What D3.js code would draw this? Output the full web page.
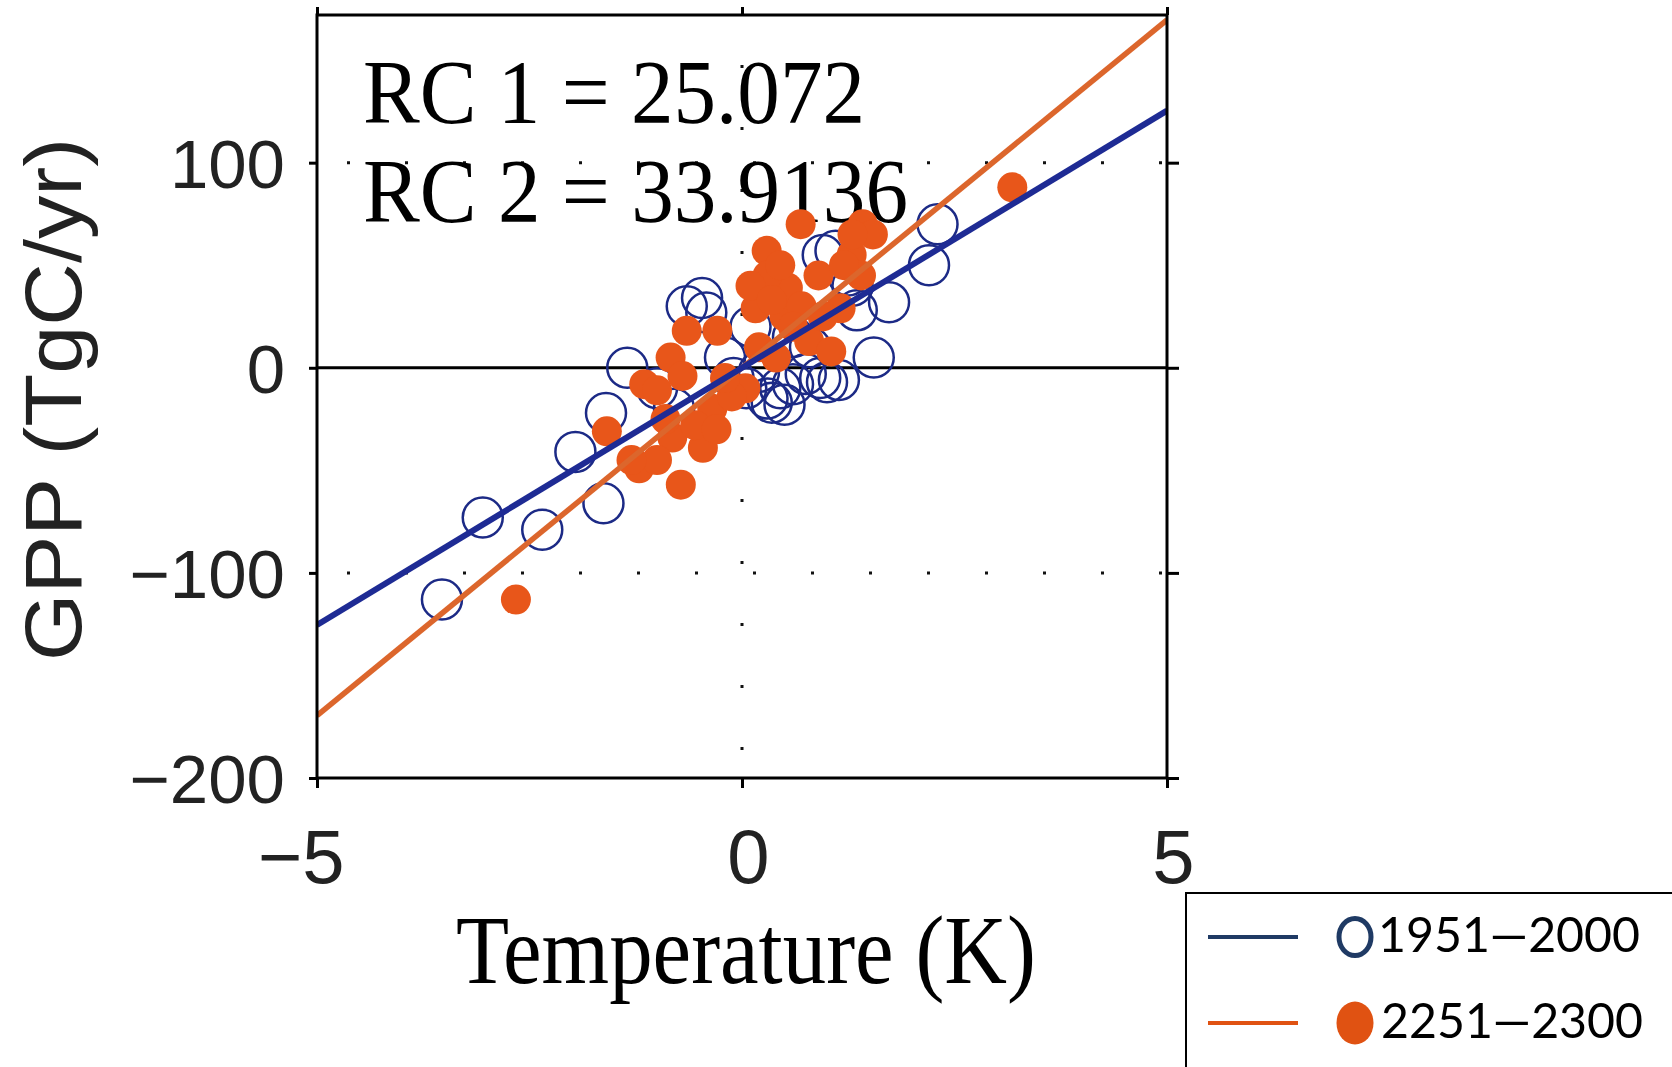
<!DOCTYPE html>
<html lang="en">
<head>
    <meta charset="UTF-8">
    <title>GPP vs Temperature</title>
    <script src="https://d3js.org/d3.v7.min.js"></script>
    <style>
        body { margin: 0; padding: 0; background: #fff; }
        svg { display: block; }
    </style>
</head>
<body>
    <svg id="chart"></svg>
    <script>
        // ---- data ----
        // 1951-2000 (open circles): [temperature K, GPP TgC/yr]
        const period1 = [
            [-3.53, -113], [-3.05, -73], [-2.35, -79], [-1.96, -41], [-1.6, -22],
            [-1.63, -66], [-1.35, 0], [-0.47, 34], [-0.42, 27], [0.3, -15],
            [0.45, -10], [0.92, -5], [1.14, -6], [1.55, 5], [1.1, 57],
            [2.3, 70], [2.2, 50], [1.73, 32], [1.35, 28], [1.0, -7],
            [0.2, -2], [-0.2, 5], [0.6, 15], [0.1, 20], [-0.8, -20],
            [0.5, -18], [1.3, 40], [-1.0, -10], [0.8, 10], [0.35, -17],
            [0.05, -10], [0.6, -8], [0.75, -3], [1.25, 45], [-0.65, 30],
            [0.95, 55], [-0.1, -5]
        ];
        // 2251-2300 (filled dots)
        const period2 = [
            [3.18, 88], [-2.66, -113], [0.69, 70], [1.42, 70], [0.29, 57],
            [1.54, 65], [1.29, 55], [0.16, 29], [0.54, 39], [0.79, 13],
            [1.05, 8], [1.16, 29], [-0.29, 18], [-0.65, 18], [-0.84, 5],
            [-1.15, -8], [-1.59, -31], [-1.21, -49], [-0.72, -57], [-0.46, -39],
            [0.04, -10], [-0.35, -20], [-0.12, -14], [-1.0, -11], [-0.7, -4],
            [-0.82, -34], [-1.0, -45], [0.3, 45], [0.5, 25], [0.9, 45],
            [0.2, 10], [0.4, 5], [1.3, 65], [0.7, 30], [-0.9, -25], [1.4, 45],
            [-0.55, -28], [-0.2, -5], [0.1, 40], [0.35, 33], [0.6, 20],
            [0.95, 25], [1.2, 50], [-0.3, -30], [-1.3, -45], [0.45, 50]
        ];
        // regression lines (end points at x = -5 and 5)
        const line1 = [[-5, -125.36], [5, 125.36]];
        const line2 = [[-5, -169.57], [5, 169.57]];
        const rcLabels = ["RC 1 = 25.072", "RC 2 = 33.9136"];
        const xTicks = [-5, 0, 5];
        const yTicks = [-200, -100, 0, 100];
        const gridY = [-100, 100];
        const gridX = [0];
        const legendLabels = ["1951\u20142000", "2251\u20142300"];

        const width = 1672, height = 1067;
        const plotLeft = 317, plotRight = 1167, plotTop = 15, plotBottom = 778;

        const svg = d3.select("#chart")
            .attr("width", width)
            .attr("height", height);

        svg.append("rect").attr("width", width).attr("height", height).attr("fill", "#fff");

        const x = d3.scaleLinear().domain([-5, 5]).range([plotLeft, plotRight]);
        const y = d3.scaleLinear().domain([-200, 172]).range([plotBottom, plotTop]);

        const fmt = d => d < 0 ? "\u2212" + Math.abs(d) : String(d);

        // dotted grid
        svg.append("g").selectAll("line").data(gridY).join("line")
            .attr("x1", plotLeft).attr("x2", plotRight)
            .attr("y1", d => y(d)).attr("y2", d => y(d))
            .attr("stroke", "#111").attr("stroke-width", 3)
            .attr("stroke-dasharray", "3,55").attr("stroke-dashoffset", -30);
        svg.append("g").selectAll("line").data(gridX).join("line")
            .attr("x1", d => x(d)).attr("x2", d => x(d))
            .attr("y1", plotBottom).attr("y2", plotTop)
            .attr("stroke", "#111").attr("stroke-width", 3)
            .attr("stroke-dasharray", "3,59").attr("stroke-dashoffset", -28);

        // zero line
        svg.append("line")
            .attr("x1", plotLeft).attr("x2", plotRight)
            .attr("y1", y(0)).attr("y2", y(0))
            .attr("stroke", "#000").attr("stroke-width", 3);

        // RC text
        svg.append("g").selectAll("text").data(rcLabels).join("text")
            .attr("x", 363)
            .attr("y", (d, i) => 123 + i * 99)
            .attr("font-family", "'Liberation Serif', 'Times New Roman', serif")
            .attr("font-size", 90)
            .attr("textLength", (d, i) => i === 0 ? 502 : 545)
            .attr("lengthAdjust", "spacingAndGlyphs")
            .attr("fill", "#000")
            .text(d => d);

        svg.append("clipPath").attr("id", "plotclip")
            .append("rect").attr("x", plotLeft).attr("y", plotTop)
            .attr("width", plotRight - plotLeft).attr("height", plotBottom - plotTop);

        const plot = svg.append("g").attr("clip-path", "url(#plotclip)");

        // open circles
        plot.append("g").selectAll("circle").data(period1).join("circle")
            .attr("cx", d => x(d[0])).attr("cy", d => y(d[1]))
            .attr("r", 20)
            .attr("fill", "none")
            .attr("stroke", "#1c2a86")
            .attr("stroke-width", 2.5);

        // filled dots
        plot.append("g").selectAll("circle").data(period2).join("circle")
            .attr("cx", d => x(d[0])).attr("cy", d => y(d[1]))
            .attr("r", 15)
            .attr("fill", "#e8561a");

        const lineGen = d3.line().x(d => x(d[0])).y(d => y(d[1]));

        plot.append("path").datum(line2)
            .attr("d", lineGen)
            .attr("fill", "none")
            .attr("stroke", "#dc662c")
            .attr("stroke-width", 5.5);

        plot.append("path").datum(line1)
            .attr("d", lineGen)
            .attr("fill", "none")
            .attr("stroke", "#1e2b94")
            .attr("stroke-width", 6);

        // frame
        svg.append("rect")
            .attr("x", plotLeft).attr("y", plotTop)
            .attr("width", plotRight - plotLeft).attr("height", plotBottom - plotTop)
            .attr("fill", "none").attr("stroke", "#000").attr("stroke-width", 3);

        // axes
        const yAxis = svg.append("g")
            .attr("transform", `translate(${plotLeft},0)`)
            .call(d3.axisLeft(y).tickValues(yTicks).tickSize(8).tickFormat(fmt));
        yAxis.select(".domain").remove();
        yAxis.selectAll("line").attr("stroke", "#000").attr("stroke-width", 3);
        yAxis.selectAll("text")
            .attr("x", -32)
            .attr("dy", "0.36em")
            .attr("font-family", "'Liberation Sans', Arial, sans-serif")
            .attr("font-size", 69)
            .attr("fill", "#222");

        const yAxisR = svg.append("g")
            .attr("transform", `translate(${plotRight},0)`)
            .call(d3.axisRight(y).tickValues(yTicks).tickSize(12).tickFormat(""));
        yAxisR.select(".domain").remove();
        yAxisR.selectAll("line").attr("stroke", "#000").attr("stroke-width", 3);

        const xAxis = svg.append("g")
            .attr("transform", `translate(0,${plotBottom})`)
            .call(d3.axisBottom(x).tickValues(xTicks).tickSize(10).tickFormat(fmt));
        xAxis.select(".domain").remove();
        xAxis.selectAll("line").attr("stroke", "#000").attr("stroke-width", 3);
        xAxis.selectAll("text")
            .attr("x", 27)
            .attr("y", 105)
            .attr("dy", 0)
            .attr("text-anchor", "end")
            .attr("font-family", "'Liberation Sans', Arial, sans-serif")
            .attr("font-size", 76)
            .attr("fill", "#222");

        const xAxisT = svg.append("g")
            .attr("transform", `translate(0,${plotTop})`)
            .call(d3.axisTop(x).tickValues(xTicks).tickSize(8).tickFormat(""));
        xAxisT.select(".domain").remove();
        xAxisT.selectAll("line").attr("stroke", "#000").attr("stroke-width", 3);

        // axis titles
        svg.append("text")
            .attr("x", 456).attr("y", 983)
            .attr("font-family", "'Liberation Serif', 'Times New Roman', serif")
            .attr("font-size", 97)
            .attr("textLength", 580)
            .attr("lengthAdjust", "spacingAndGlyphs")
            .attr("fill", "#000")
            .text("Temperature (K)");

        svg.append("text")
            .attr("transform", "translate(81,661) rotate(-90)")
            .attr("font-family", "'Liberation Sans', Arial, sans-serif")
            .attr("font-size", 80)
            .attr("textLength", 523)
            .attr("lengthAdjust", "spacingAndGlyphs")
            .attr("fill", "#222")
            .text("GPP (TgC/yr)");

        // legend
        const legend = svg.append("g");
        legend.append("rect")
            .attr("x", 1186).attr("y", 893)
            .attr("width", 520).attr("height", 220)
            .attr("fill", "#fff").attr("stroke", "#000").attr("stroke-width", 2);

        const legendColors = ["#1f3a64", "#e05212"];
        const legendRows = legend.selectAll("g.row").data(legendLabels).join("g")
            .attr("class", "row")
            .attr("transform", (d, i) => `translate(0,${i === 0 ? 937 : 1023})`);

        legendRows.append("line")
            .attr("x1", 1208).attr("x2", 1298)
            .attr("stroke", (d, i) => legendColors[i])
            .attr("stroke-width", 4);

        legendRows.append("ellipse")
            .attr("cx", 1355).attr("cy", 0)
            .attr("rx", (d, i) => i === 0 ? 16 : 18.5)
            .attr("ry", (d, i) => i === 0 ? 18.5 : 21.5)
            .attr("fill", (d, i) => i === 0 ? "none" : legendColors[i])
            .attr("stroke", (d, i) => i === 0 ? legendColors[i] : "none")
            .attr("stroke-width", 5);

        legendRows.append("text")
            .attr("x", (d, i) => i === 0 ? 1378 : 1381)
            .attr("y", 15)
            .attr("font-family", "Lato, 'Open Sans', sans-serif")
            .attr("font-size", 48)
            .attr("textLength", 262)
            .attr("lengthAdjust", "spacingAndGlyphs")
            .attr("fill", "#000")
            .text(d => d);
    </script>
</body>
</html>
